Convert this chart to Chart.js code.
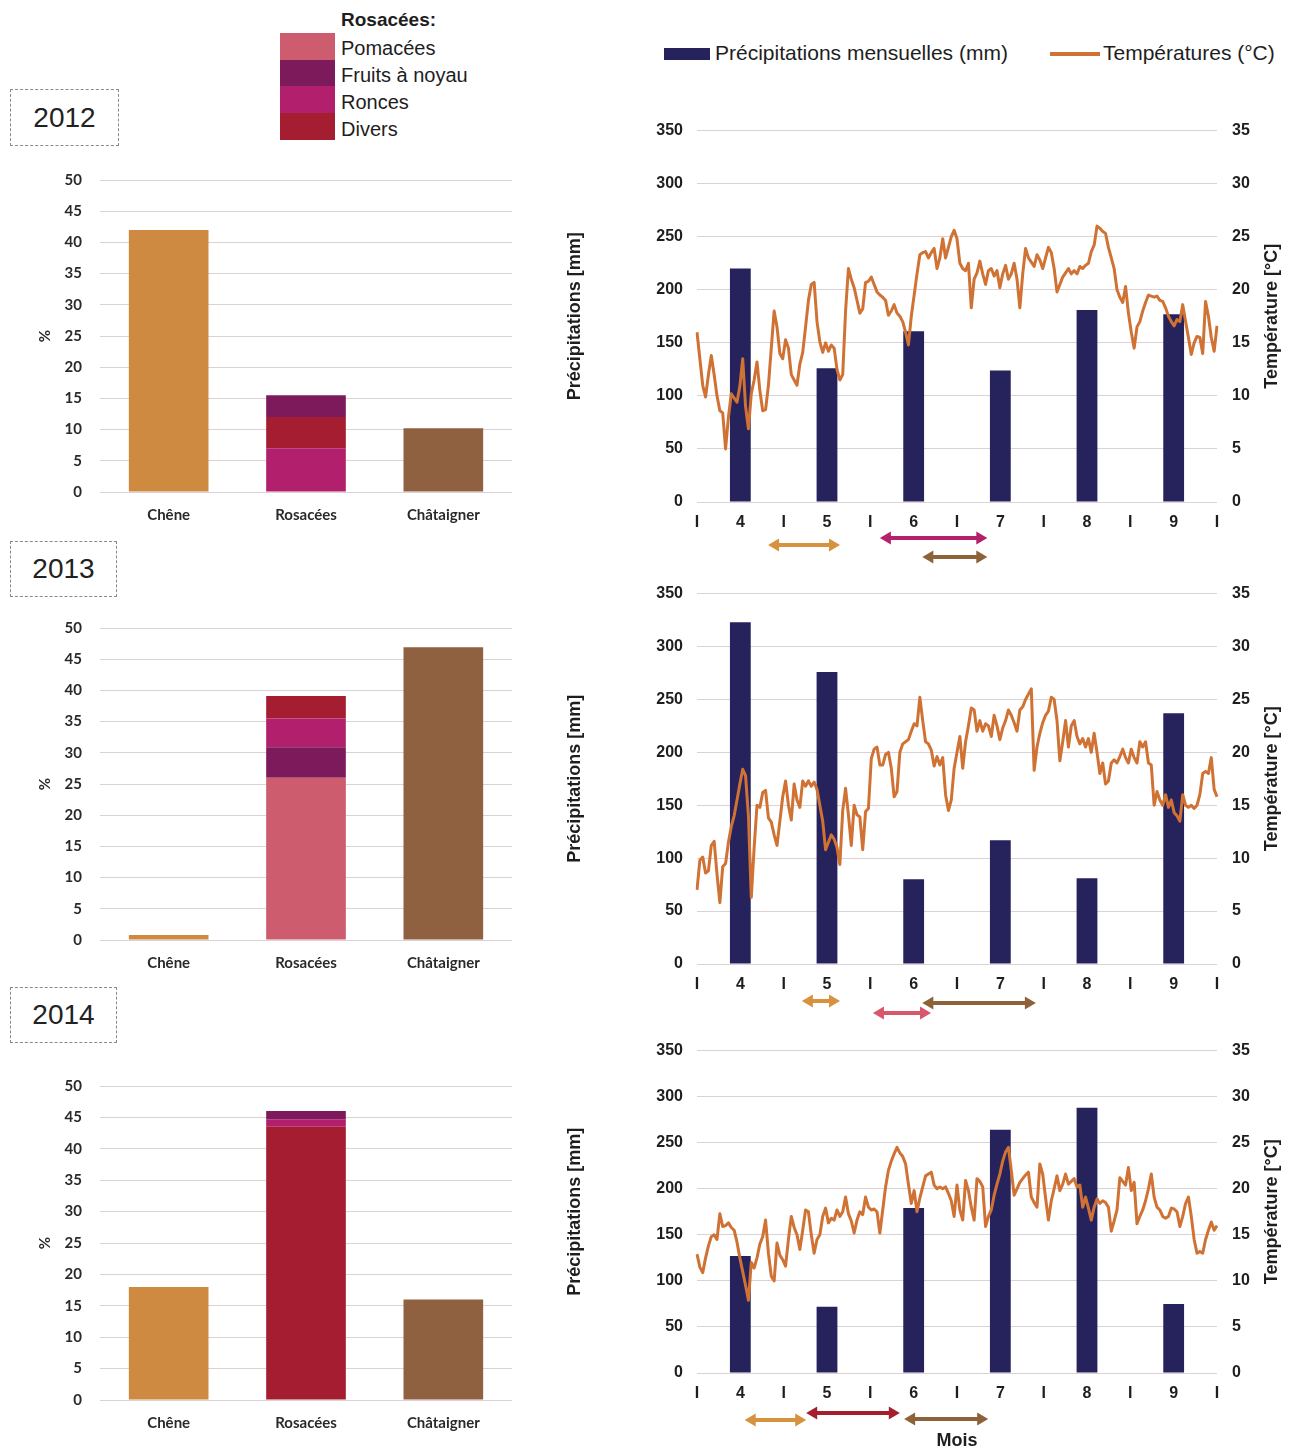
<!DOCTYPE html>
<html><head><meta charset="utf-8">
<script src="https://cdn.jsdelivr.net/npm/chart.js@4.4.1/dist/chart.umd.min.js"></script>
<style>
body{margin:0;background:#fff;width:1290px;height:1450px;position:relative;overflow:hidden;font-family:"Liberation Sans",Arial,sans-serif;color:#1e1e1e;}
.box{position:absolute;border:1px dashed #8a8a8a;font-size:28px;color:#222;display:flex;align-items:center;justify-content:center;box-sizing:border-box;}
canvas{position:absolute;}
.sw{position:absolute;left:280px;width:55px;height:27px;}
.lg{position:absolute;left:341px;font-size:20px;line-height:22px;white-space:nowrap;}
</style></head>
<body>
<div class="box" style="left:10px;top:89px;width:109px;height:57px;">2012</div>
<div class="box" style="left:10px;top:541px;width:107px;height:56px;">2013</div>
<div class="box" style="left:10px;top:987px;width:107px;height:56px;">2014</div>

<div class="lg" style="top:9px;font-weight:bold;font-size:19px;">Rosacées:</div>
<div class="sw" style="top:33px;background:#cc5c6e"></div>
<div class="sw" style="top:60px;background:#7d1a5b"></div>
<div class="sw" style="top:86px;background:#b2206d"></div>
<div class="sw" style="top:113px;background:#a51d31"></div>
<div class="lg" style="top:37px;">Pomacées</div>
<div class="lg" style="top:64px;">Fruits à noyau</div>
<div class="lg" style="top:91px;">Ronces</div>
<div class="lg" style="top:118px;">Divers</div>

<div style="position:absolute;left:664px;top:48px;width:46px;height:12px;background:#25225c"></div>
<div class="lg" style="left:715px;top:42px;font-size:21px;">Précipitations mensuelles (mm)</div>
<div style="position:absolute;left:1050px;top:52px;width:50px;height:4px;background:#cf7234"></div>
<div class="lg" style="left:1103px;top:42px;font-size:21px;">Températures (°C)</div>

<canvas id="l2012" width="500" height="388" style="left:20px;top:153px"></canvas>
<canvas id="l2013" width="500" height="388" style="left:20px;top:601px"></canvas>
<canvas id="l2014" width="500" height="390" style="left:20px;top:1059px"></canvas>
<canvas id="r2012" width="735" height="466" style="left:555px;top:106px"></canvas>
<canvas id="r2013" width="735" height="465" style="left:555px;top:569px"></canvas>
<canvas id="r2014" width="735" height="417" style="left:555px;top:1026px"></canvas>
<div style="position:absolute;left:907px;top:1430px;width:100px;text-align:center;font-size:18px;font-weight:bold;">Mois</div>

<script>
// ---------- Pollen composition (%), years 2012, 2013, 2014 ----------
const taxa = ['Chêne', 'Rosacées', 'Châtaigner'];
const years = ['2012', '2013', '2014'];
const chene = [42.0, 0.8, 18.0];
const chataigner = [10.2, 46.9, 16.0];
const pomacees = [0, 26.0, 0];
const fruitsANoyau = [3.5, 4.9, 1.3];
const ronces = [7.0, 4.6, 1.2];
const divers = [5.0, 3.6, 43.5];
const stackOrder = [
  ['Ronces', 'Divers', 'Fruits à noyau', 'Pomacées'],
  ['Pomacées', 'Fruits à noyau', 'Ronces', 'Divers'],
  ['Divers', 'Ronces', 'Fruits à noyau', 'Pomacées']
];

// ---------- Monthly precipitation (mm), months 4..9 ----------
const months = ['4', '5', '6', '7', '8', '9'];
const precip2012 = [220, 126, 161, 124, 181, 177];
const precip2013 = [323, 276, 80, 117, 81, 237];
const precip2014 = [127, 72, 179, 264, 288, 75];

// ---------- Daily temperature (°C), 1 April .. 30 September ----------
const temp2012 = [
  16.0,13.5,11.0,9.9,12.0,13.8,12.0,10.0,8.6,8.4,5.0,8.0,10.2,9.8,9.4,10.9,13.5,9.0,6.9,10.2,11.5,13.2,10.5,8.6,8.7,11.0,14.5,18.0,16.5,14.0,
  13.5,15.3,14.5,12.0,11.5,11.0,13.0,14.1,16.5,19.0,20.5,20.7,17.0,15.1,14.1,15.0,14.2,14.8,14.5,12.5,11.5,12.0,18.0,22.0,21.0,20.2,19.0,17.8,18.2,20.7,20.8,
  21.2,20.5,19.8,19.5,19.3,19.0,17.6,18.0,18.6,17.8,17.5,17.0,16.0,14.8,17.5,19.5,21.5,23.3,23.5,23.6,23.0,23.5,23.9,22.0,23.0,24.8,23.0,24.0,25.0,25.6,
  24.8,22.5,22.0,21.8,22.5,18.3,21.0,21.6,22.7,21.5,20.5,21.8,22.0,21.3,21.8,20.2,21.5,22.3,21.0,21.5,22.5,21.0,18.3,21.5,23.9,23.0,22.6,22.2,23.3,22.8,22.0,
  23.0,24.0,23.5,22.0,19.8,20.5,21.2,21.6,22.0,21.5,21.8,21.5,22.2,22.0,22.3,22.5,23.6,24.2,26.0,25.8,25.5,25.3,24.0,23.0,22.0,20.0,19.3,18.8,20.3,17.8,16.0,
  14.5,16.5,17.0,18.0,18.8,19.5,19.4,19.3,19.4,19.0,18.9,18.3,17.5,17.0,16.6,17.2,17.0,18.6,17.0,15.5,13.9,15.0,15.6,15.5,14.0,18.9,17.5,15.5,14.2,16.6
];
const temp2013 = [
  7.0,9.8,10.1,8.6,8.8,11.2,11.6,8.5,5.8,9.2,9.5,11.5,13.0,14.0,15.5,17.0,18.4,17.8,14.0,6.3,11.0,15.0,14.8,16.2,16.4,13.8,13.4,12.2,11.2,13.5,
  15.8,17.3,15.0,13.6,17.0,15.5,14.8,17.3,16.8,17.3,16.8,17.2,16.5,15.0,13.5,10.8,11.5,12.2,11.8,11.0,9.4,14.5,16.6,14.1,11.2,15.0,14.1,13.9,10.8,14.4,14.7,
  19.4,20.3,20.5,18.8,18.8,19.8,20.0,18.5,15.8,16.3,20.0,20.8,21.0,21.2,22.0,22.7,22.5,25.2,23.0,21.0,20.8,20.2,18.7,19.6,18.8,19.5,16.0,14.5,15.5,18.5,
  20.0,21.5,18.5,21.0,22.5,24.2,24.0,22.0,23.0,22.0,22.7,22.5,21.5,23.5,22.5,21.2,22.3,23.0,24.0,23.5,22.8,22.0,24.0,24.3,25.0,25.5,26.0,18.3,20.5,21.8,22.8,
  23.5,23.9,25.2,25.0,23.0,19.2,21.0,23.0,20.5,22.5,23.0,21.5,20.8,21.3,20.5,21.3,20.0,21.8,20.0,18.0,19.0,17.0,17.3,19.0,19.3,19.0,19.6,20.3,19.5,19.0,20.3,
  19.5,19.0,21.0,20.5,21.0,19.0,18.8,15.0,16.3,15.5,15.0,16.0,14.8,15.5,14.3,14.0,13.5,16.0,15.0,14.8,15.0,14.7,15.0,16.0,18.0,18.2,18.0,19.5,16.5,15.8
];
const temp2014 = [
  12.9,11.5,10.9,12.5,13.8,14.8,15.0,14.5,17.3,15.9,16.0,16.3,15.8,15.5,14.2,12.5,11.0,9.5,7.9,12.0,11.4,12.5,14.0,14.8,16.6,13.0,10.5,10.0,14.1,12.8,
  12.3,11.6,14.5,17.0,15.8,15.0,13.4,15.5,17.7,17.5,15.0,13.0,14.5,15.0,17.0,17.9,16.3,16.8,16.6,17.7,17.0,17.5,19.1,17.3,16.5,15.2,16.6,17.5,17.2,19.1,18.0,
  17.7,17.8,17.5,15.2,17.7,20.2,22.0,23.0,23.8,24.5,23.9,23.5,22.7,20.5,18.4,19.8,17.5,19.0,20.2,21.4,21.6,21.8,20.4,20.0,20.2,20.0,20.2,19.5,18.7,17.0,
  20.4,17.7,16.6,20.9,19.8,18.0,16.6,21.1,20.8,20.2,15.9,17.0,17.7,19.3,20.5,21.6,23.0,24.0,24.5,22.0,19.3,20.0,20.7,21.1,21.5,21.8,19.1,18.5,18.0,22.7,21.6,
  19.0,16.6,18.7,20.0,21.4,19.8,20.5,21.6,20.5,20.8,21.1,20.2,20.4,18.0,19.1,17.9,16.6,18.0,18.9,18.4,18.7,18.5,18.0,15.4,16.5,17.7,21.2,20.8,20.4,22.3,19.8,
  20.7,16.2,17.0,17.7,18.7,20.0,21.6,19.1,18.0,17.7,17.0,16.8,17.0,17.9,17.8,17.5,15.9,17.0,18.4,19.1,17.0,14.5,13.0,13.2,13.0,14.5,15.5,16.4,15.5,16.0
];

// ---------- Flowering periods (months after 1 April) ----------
const flowering2012 = [
  {taxon: 'Rosacées', start: 2.11, end: 3.35},
  {taxon: 'Chêne', start: 0.82, end: 1.65},
  {taxon: 'Châtaigner', start: 2.60, end: 3.35}
];
const flowering2013 = [
  {taxon: 'Chêne', start: 1.21, end: 1.65},
  {taxon: 'Châtaigner', start: 2.60, end: 3.91},
  {taxon: 'Rosacées', start: 2.03, end: 2.70}
];
const flowering2014 = [
  {taxon: 'Rosacées', start: 1.26, end: 2.34},
  {taxon: 'Châtaigner', start: 2.39, end: 3.36},
  {taxon: 'Chêne', start: 0.55, end: 1.26}
];

// ---------- styles ----------
const COL = {
  'Chêne': '#cf8a42', 'Châtaigner': '#8f6140',
  'Pomacées': '#cc5c6e', 'Fruits à noyau': '#7d1a5b', 'Ronces': '#b2206d', 'Divers': '#a51d31'
};
const arrowCol = [
  {'Chêne': '#d6923c', 'Châtaigner': '#8c6239', 'Rosacées': '#b5206b'},
  {'Chêne': '#d6923c', 'Châtaigner': '#8c6239', 'Rosacées': '#d9576c'},
  {'Chêne': '#d6923c', 'Châtaigner': '#8c6239', 'Rosacées': '#a51e2e'}
];
const arrowDy = [[36, 43, 55], [37, 39, 49], [40, 46, 47]];
const GRID = '#dcd1d5';
const TXT = '#1e1e1e';
const AR = "'Liberation Sans', Arial, sans-serif";
const CAL = "Lato, 'Open Sans', sans-serif";

Chart.defaults.font.family = AR;
Chart.defaults.color = TXT;

const groupValues = {'Pomacées': pomacees, 'Fruits à noyau': fruitsANoyau, 'Ronces': ronces, 'Divers': divers};

function pollenChart(id, yi) {
  const common = {barPercentage: 0.58, categoryPercentage: 1, borderWidth: 0};
  const ds = [{label: 'Chêne', data: [chene[yi], null, null], backgroundColor: COL['Chêne'], ...common}];
  stackOrder[yi].forEach(g => {
    ds.push({label: g, data: [null, groupValues[g][yi], null], backgroundColor: COL[g], ...common});
  });
  ds.push({label: 'Châtaigner', data: [null, null, chataigner[yi]], backgroundColor: COL['Châtaigner'], ...common});
  new Chart(document.getElementById(id), {
    type: 'bar',
    data: {labels: taxa, datasets: ds},
    options: {
      responsive: false, animation: false,
      layout: {padding: {top: 0, right: 8, bottom: 9, left: 0}},
      plugins: {legend: {display: false}, tooltip: {enabled: false}},
      scales: {
        x: {stacked: true, offset: true, grid: {display: false, drawTicks: false}, border: {display: false},
            ticks: {padding: 14, color: '#2a2a2a', font: {family: CAL, size: 15, weight: 'bold'}},
            afterFit: s => { s.height = 40; }},
        y: {stacked: true, min: 0, max: 50,
            ticks: {stepSize: 5, padding: 18, color: '#2a2a2a', font: {family: CAL, size: 15, weight: 'bold'}},
            grid: {color: GRID, drawTicks: false}, border: {display: false},
            title: {display: true, text: '%', color: '#2a2a2a', font: {family: CAL, size: 15, weight: 'bold'}, padding: {top: 16, bottom: 0}},
            afterFit: s => { s.width = 80; }}
      }
    }
  });
}

function extrasPlugin(periods, yi) {
  return {
    id: 'extras' + yi,
    afterDraw(chart) {
      const ctx = chart.ctx, sc = chart.scales.xt, ca = chart.chartArea;
      periods.forEach((p, k) => {
        const x1 = sc.getPixelForValue(p.start), x2 = sc.getPixelForValue(p.end);
        const y = ca.bottom + arrowDy[yi][k];
        const c = arrowCol[yi][p.taxon];
        const h = 11, w = 6.5;
        ctx.save();
        ctx.fillStyle = c; ctx.strokeStyle = c; ctx.lineWidth = 4;
        ctx.beginPath(); ctx.moveTo(x1 + h - 2, y); ctx.lineTo(x2 - h + 2, y); ctx.stroke();
        ctx.beginPath(); ctx.moveTo(x1, y); ctx.lineTo(x1 + h, y - w); ctx.lineTo(x1 + h, y + w); ctx.closePath(); ctx.fill();
        ctx.beginPath(); ctx.moveTo(x2, y); ctx.lineTo(x2 - h, y - w); ctx.lineTo(x2 - h, y + w); ctx.closePath(); ctx.fill();
        ctx.restore();
      });
      // right axis title, reading upward
      ctx.save();
      ctx.translate(ca.right + 55, (ca.top + ca.bottom) / 2);
      ctx.rotate(-Math.PI / 2);
      ctx.font = 'bold 18px ' + AR;
      ctx.fillStyle = TXT; ctx.textAlign = 'center'; ctx.textBaseline = 'middle';
      ctx.fillText('Température [°C]', 0, 0);
      ctx.restore();
    }
  };
}

function climateChart(id, precip, temps, periods, yi) {
  const tickFont = {size: 16, weight: 'bold'};
  new Chart(document.getElementById(id), {
    type: 'bar',
    data: {
      datasets: [
        {type: 'line', data: temps, xAxisID: 'xd', yAxisID: 'y2', borderColor: '#cf7234', borderWidth: 3,
         pointRadius: 0, tension: 0, order: 1, borderJoinStyle: 'round'},
        {type: 'bar', data: precip, xAxisID: 'x', yAxisID: 'y', backgroundColor: '#25225c',
         barPercentage: 0.24, categoryPercentage: 1, grouped: false, order: 2}
      ]
    },
    plugins: [extrasPlugin(periods, yi)],
    options: {
      responsive: false, animation: false,
      layout: {padding: {top: 0, bottom: 30, left: 0, right: 0}},
      plugins: {legend: {display: false}, tooltip: {enabled: false}},
      scales: {
        x: {type: 'category', labels: months, display: false, offset: true},
        xd: {type: 'category', labels: temps.map((_, i) => String(i)), display: false, offset: false},
        xt: {type: 'linear', position: 'bottom', min: 0, max: 6, offset: false,
             grid: {display: false, drawTicks: false, offset: false}, border: {display: false},
             ticks: {stepSize: 0.5, autoSkip: false, maxRotation: 0, padding: 11, color: TXT, font: tickFont,
                     callback: v => Number.isInteger(v) ? 'I' : months[Math.floor(v)]},
             afterFit: s => { s.height = 40; }},
        y: {position: 'left', min: 0, max: 350,
            ticks: {stepSize: 50, padding: 14, color: TXT, font: tickFont},
            grid: {color: GRID, drawTicks: false}, border: {display: false},
            title: {display: true, text: 'Précipitations [mm]', color: TXT, font: {size: 18, weight: 'bold'}, padding: {top: 9, bottom: 0}},
            afterFit: s => { s.width = 142; }},
        y2: {position: 'right', min: 0, max: 35,
             ticks: {stepSize: 5, padding: 15, color: TXT, font: tickFont},
             grid: {display: false, drawTicks: false}, border: {display: false},
             afterFit: s => { s.width = 73; }}
      }
    }
  });
}

pollenChart('l2012', 0);
pollenChart('l2013', 1);
pollenChart('l2014', 2);
climateChart('r2012', precip2012, temp2012, flowering2012, 0);
climateChart('r2013', precip2013, temp2013, flowering2013, 1);
climateChart('r2014', precip2014, temp2014, flowering2014, 2);
</script>
</body></html>
